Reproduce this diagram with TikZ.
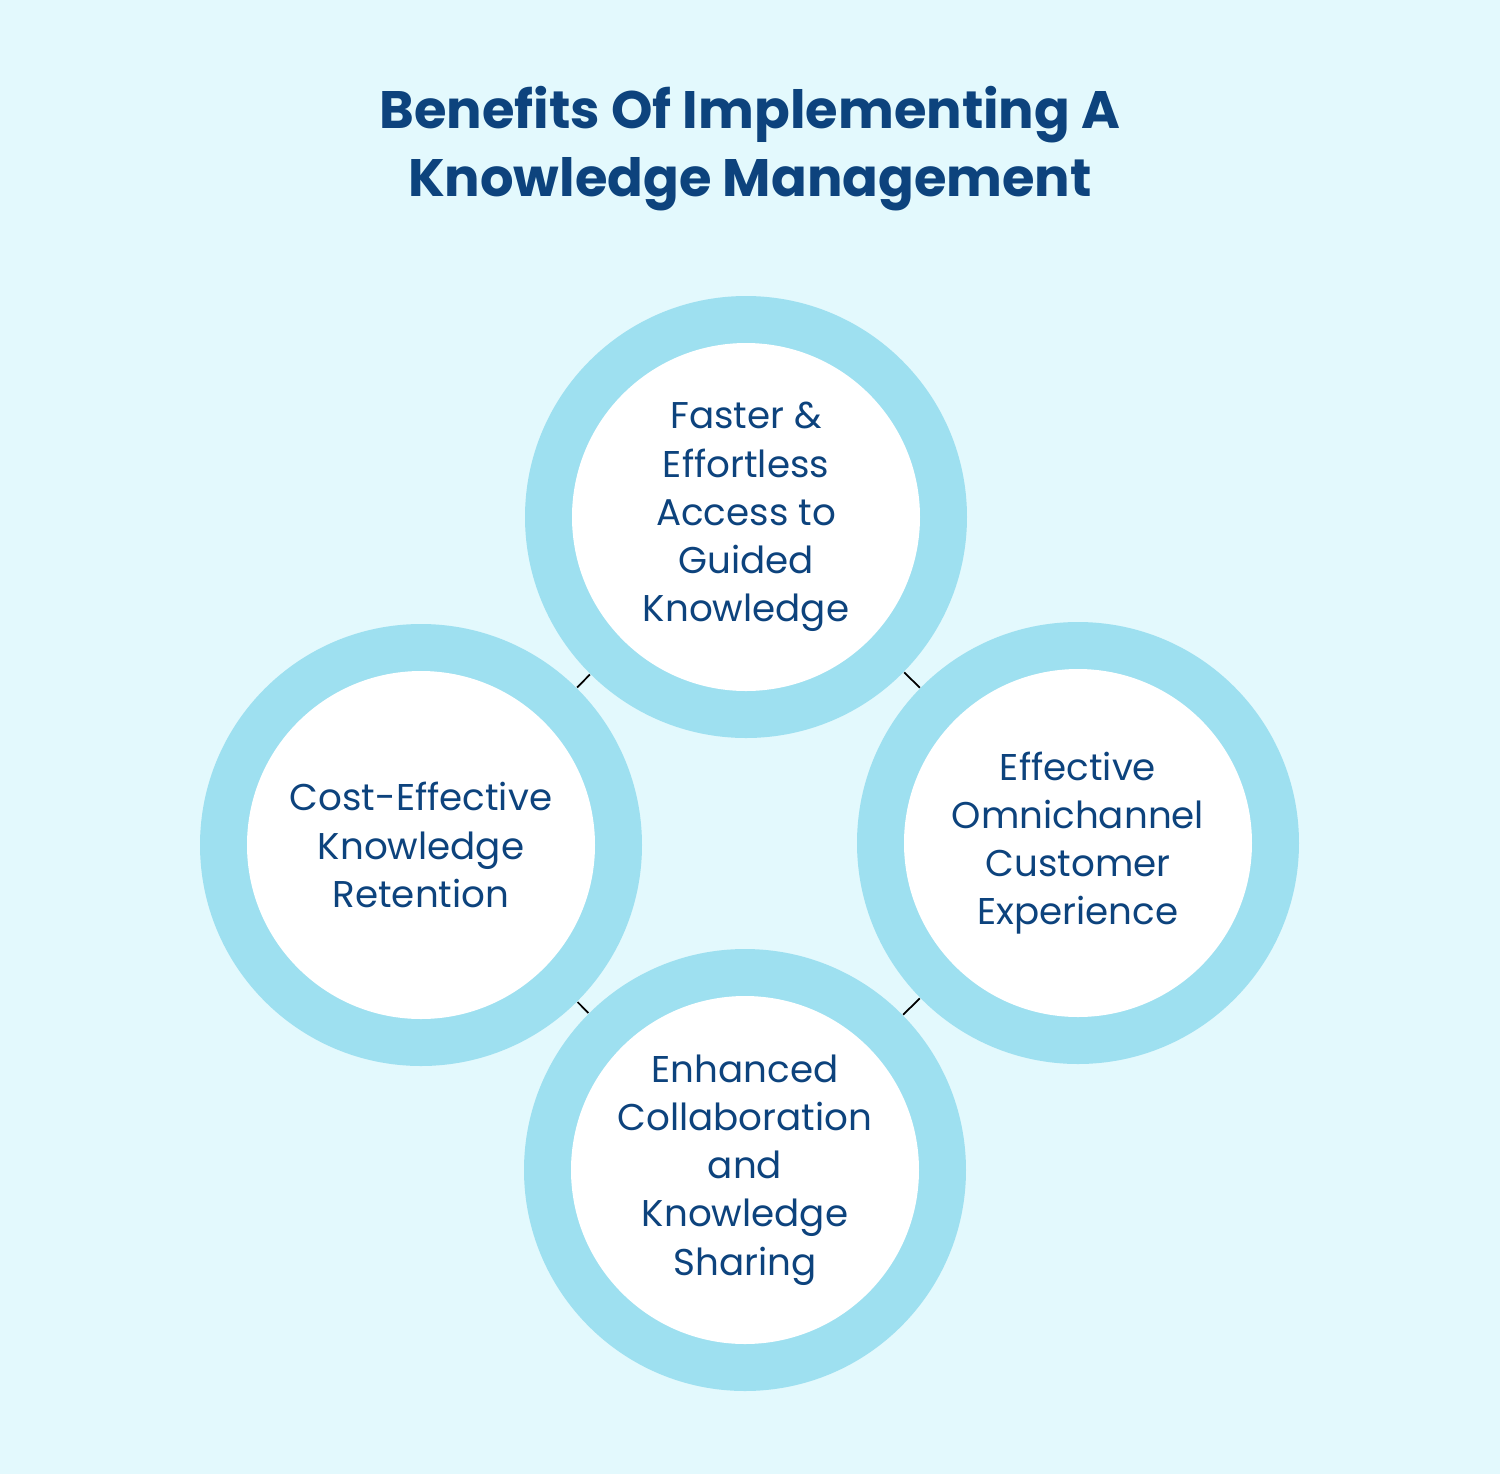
\documentclass[tikz,border=0pt]{standalone}
\usepackage{fontspec}
\setmainfont{Poppins}
\definecolor{bgblue}{HTML}{E3F9FD}
\definecolor{ringblue}{HTML}{9EE0F0}
\definecolor{navy}{HTML}{0D437D}
\tikzset{
  ring/.style={circle, fill=ringblue, minimum size=4.42cm, inner sep=0pt},
  core/.style={circle, fill=white, minimum size=3.48cm, inner sep=0pt, align=center,
    text=navy, font=\fontsize{10.6}{13.7}\selectfont},
  link/.style={black, line width=0.5pt}
}
\begin{document}
\begin{tikzpicture}
  \fill[bgblue] (0,0) rectangle (15,-14.74);
  \useasboundingbox (0,0) rectangle (15,-14.74);
  \node[text=navy, font=\fontsize{15}{19.3}\bfseries\selectfont, align=center] (title)
    at (7.5,-1.49) {Benefits Of Implementing A\\Knowledge Management};

  \node[ring] (top) at (7.46,-5.17) {};
  \node[ring] (left) at (4.21,-8.45) {};
  \node[ring] (right) at (10.78,-8.43) {};
  \node[ring] (bottom) at (7.45,-11.70) {};

  \node[core] (topc) at (top) {Faster \&\\Effortless\\Access to\\Guided\\Knowledge};
  \node[core] (leftc) at (left) {Cost-Effective\\Knowledge\\Retention};
  \node[core] (rightc) at (right) {Effective\\Omnichannel\\Customer\\Experience};
  \node[core] (bottomc) at (bottom) {Enhanced\\Collaboration\\and\\Knowledge\\Sharing};

  \path
  (top) edge[link] (left)
  (top) edge[link] (right)
  (left) edge[link] (bottom)
  (right) edge[link] (bottom);
\end{tikzpicture}
\end{document}
